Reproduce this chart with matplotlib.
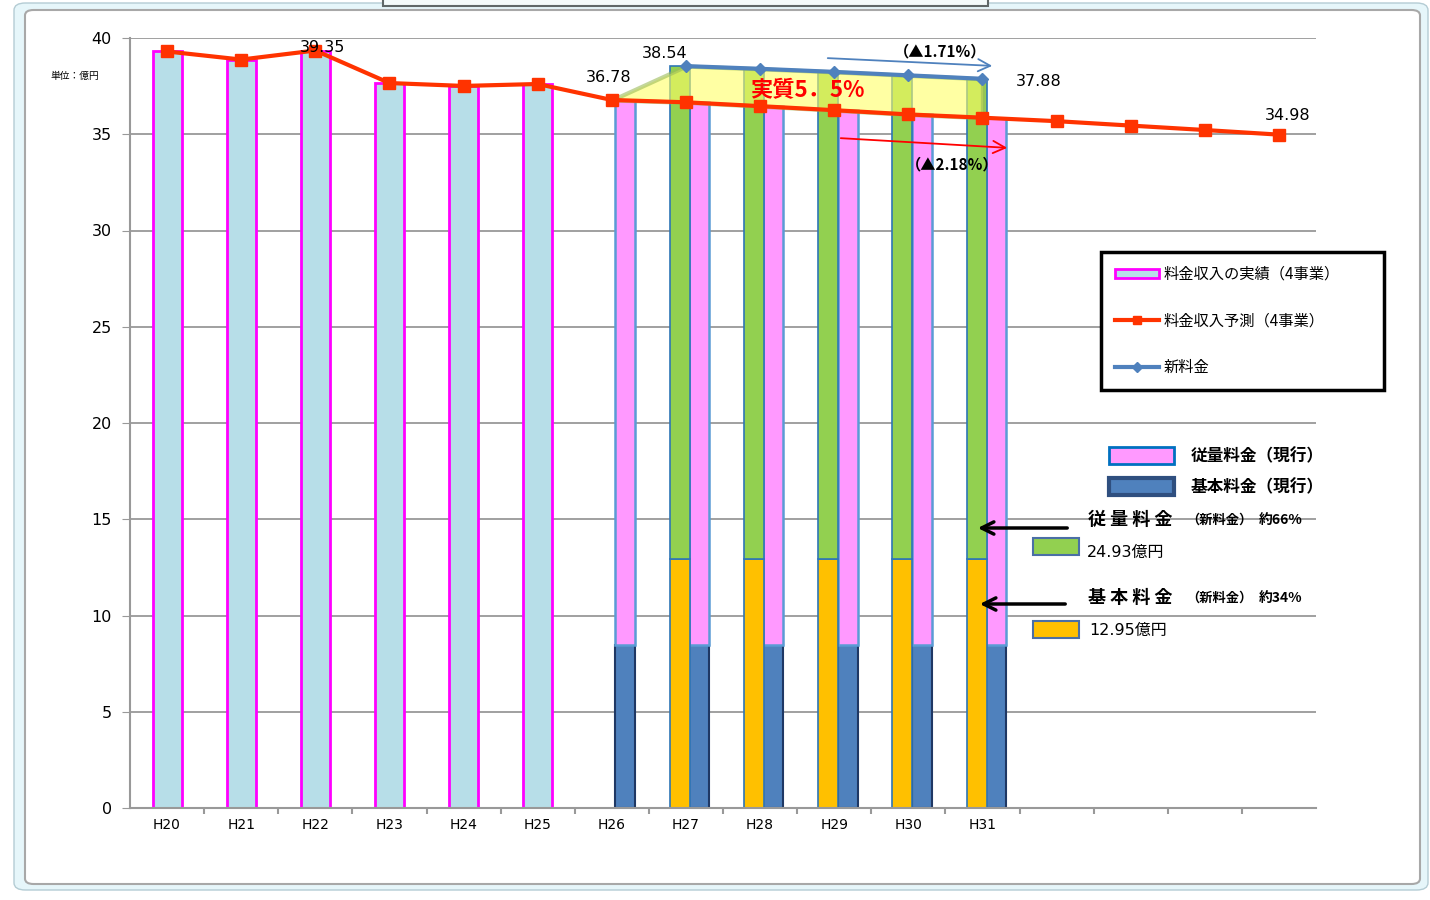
import numpy as np
import matplotlib
matplotlib.use('Agg')
import matplotlib.pyplot as plt
from matplotlib.patches import Patch, Rectangle, FancyBboxPatch
from matplotlib.lines import Line2D

plt.rcParams['font.family'] = ['DejaVu Sans', 'Noto Sans CJK JP']

# ============================================================
# DATA (units: 億円)
# ============================================================
years = ['H20', 'H21', 'H22', 'H23', 'H24', 'H25', 'H26', 'H27', 'H28',
         'H29', 'H30', 'H31', '', '', '', '']
# 料金収入の実績（4事業） H20-H25
actual = [39.30, 38.88, 39.35, 37.66, 37.51, 37.61]
# 料金収入予測（4事業） H20-H35
forecast = [39.30, 38.88, 39.35, 37.66, 37.51, 37.61, 36.78, 36.66, 36.46,
            36.25, 36.03, 35.86, 35.68, 35.45, 35.22, 34.98]
# 新料金 H27-H31
new_rate = [38.54, 38.40, 38.24, 38.06, 37.88]
# 基本料金（現行） H26-H31
base_current = [8.45, 8.45, 8.45, 8.45, 8.45, 8.45]
# 基本料金（新料金）
base_new = 12.95

W, H = 1430, 900


def fp(x, y):
  # reference pixel -> figure fraction
  return (x / W, 1 - y / H)


fig = plt.figure(figsize=(14.3, 9), dpi=100)
ax = fig.add_axes([130 / W, 1 - 808 / H, 1186 / W, 770 / H])
ax.set_facecolor('white')

# outer frame
fig.patches.append(FancyBboxPatch(fp(14, 890), 1414 / W, 887 / H,
                                  boxstyle='round,pad=0,rounding_size=0.008',
                                  transform=fig.transFigure, fc='#E6F6FA',
                                  ec='#B4CCD4', lw=1, zorder=-3))
fig.patches.append(FancyBboxPatch(fp(25, 884), 1395 / W, 874 / H,
                                  boxstyle='round,pad=0,rounding_size=0.006',
                                  transform=fig.transFigure, fc='white',
                                  ec='#A8A8A8', lw=1.5, zorder=-2))
fig.patches.append(Rectangle(fp(383, 6), 605 / W, 8 / H, transform=fig.transFigure,
                             fc='#F4FBFB', ec='#606868', lw=1.5, zorder=-1))

x = np.arange(len(years))

# ============================================================
# Bars
# ============================================================
ax.bar(x[:6], actual, width=0.39, color='#B7DEE8', edgecolor='#FF00FF', lw=2, zorder=2)

xr = x[6:12] + 0.18
pink = np.array(forecast[6:12]) - np.array(base_current)
ax.bar(xr, base_current, width=0.27, color='#4F81BD', edgecolor='#1F3864', lw=1.5, zorder=2)
ax.bar(xr, pink, bottom=base_current, width=0.27, color='#FF99FF',
       edgecolor='#5B9BD5', lw=1.8, zorder=2)

xl = x[7:12] - 0.08
green = np.array(new_rate) - base_new
ax.bar(xl, [base_new] * 5, width=0.27, color='#FFC000', edgecolor='#2E75B6', lw=1.2, zorder=2)
ax.bar(xl, green, bottom=base_new, width=0.27, color='#92D050', edgecolor='#2E75B6', lw=1.2, zorder=2)

# 実質 area between forecast and new rate
top = [forecast[6]] + new_rate
ax.fill_between(x[6:12], forecast[6:12], top, color='#FFFF66', alpha=0.6,
                edgecolor='#9BBB59', lw=3, zorder=3)

# ============================================================
# Lines
# ============================================================
ax.plot(x, forecast, color='#FF3300', lw=3, marker='s', ms=8, zorder=5)
ax.plot(x[7:12], new_rate, color='#4F81BD', lw=3, marker='D', ms=6, zorder=6)

# data labels
labels = [(2, forecast[2], (7, 3)), (6, forecast[6], (-3, 22)),
          (7, new_rate[0], (-21, 13)), (11, new_rate[4], (56, -3)),
          (15, forecast[15], (9, 19))]
for xi, v, off in labels:
  ax.annotate(f'{v:.2f}', (xi, v), xytext=off, textcoords='offset pixels',
              ha='center', va='center', fontsize=11.5, zorder=8)

# ============================================================
# Axes styling
# ============================================================
ax.set_xlim(-0.5, 15.5)
ax.set_ylim(0, 40)
ax.set_yticks(range(0, 41, 5))
ax.tick_params(axis='y', labelsize=11.5, length=6, color='#999999', pad=7)
ax.set_xticks(x)
ax.set_xticklabels(years, fontsize=10)
ax.set_xticks(np.arange(0.5, 15.5, 1), minor=True)
ax.tick_params(axis='x', which='major', length=0, pad=7)
ax.tick_params(axis='x', which='minor', length=4, color='#999999', width=1.5)
ax.grid(axis='y', color='#999999', lw=1.3)
ax.set_axisbelow(True)
for s in ['top', 'right']:
  ax.spines[s].set_visible(False)
for s in ['left', 'bottom']:
  ax.spines[s].set_color('#999999')
  ax.spines[s].set_linewidth(1.5)

jp = ['Noto Sans CJK JP']
fig.text(*fp(75, 76), '単位：億円', fontsize=7, ha='center', va='center', family=jp)

# ============================================================
# Annotations
# ============================================================
fig.text(*fp(807, 91), '実質5．5%', color='#FF0000', fontsize=16, fontweight='bold',
         ha='center', va='center', family=jp, zorder=8)
fig.text(*fp(940, 51), '（▲1.71%）', fontsize=11, fontweight='bold',
         ha='center', va='center', family=jp)
fig.text(*fp(952, 164), '（▲2.18%）', fontsize=11, fontweight='bold',
         ha='center', va='center', family=jp)
ax.annotate('', xy=fp(995, 66), xytext=fp(825, 58), xycoords='figure fraction',
            textcoords='figure fraction',
            arrowprops=dict(arrowstyle='->', color='#4F81BD', lw=1.3, mutation_scale=22))
ax.annotate('', xy=fp(1010, 148), xytext=fp(838, 138), xycoords='figure fraction',
            textcoords='figure fraction',
            arrowprops=dict(arrowstyle='->', color='#FF0000', lw=1.3, mutation_scale=22))

# 新料金 breakdown
fig.text(*fp(1088, 519), '従 量 料 金', fontsize=13, fontweight='bold', va='center', family=jp)
fig.text(*fp(1186, 520), '（新料金）', fontsize=9.5, fontweight='bold', va='center', family=jp)
fig.text(*fp(1259, 520), '約66%', fontsize=10, fontweight='bold', va='center', family=jp)
fig.text(*fp(1087, 552), '24.93億円', fontsize=11.5, va='center')
fig.text(*fp(1088, 597), '基 本 料 金', fontsize=13, fontweight='bold', va='center', family=jp)
fig.text(*fp(1186, 598), '（新料金）', fontsize=9.5, fontweight='bold', va='center', family=jp)
fig.text(*fp(1259, 598), '約34%', fontsize=10, fontweight='bold', va='center', family=jp)
fig.text(*fp(1089, 630), '12.95億円', fontsize=11.5, va='center')
fig.patches.append(Rectangle(fp(1033, 555), 46 / W, 17 / H, transform=fig.transFigure,
                             fc='#92D050', ec='#4A6FA5', lw=1.5))
fig.patches.append(Rectangle(fp(1033, 638), 46 / W, 17 / H, transform=fig.transFigure,
                             fc='#FFC000', ec='#4A6FA5', lw=1.5))
ax.annotate('', xy=fp(975, 528), xytext=fp(1070, 528), xycoords='figure fraction',
            textcoords='figure fraction',
            arrowprops=dict(arrowstyle='->', color='black', lw=2.5, mutation_scale=22))
ax.annotate('', xy=fp(977, 604), xytext=fp(1068, 604), xycoords='figure fraction',
            textcoords='figure fraction',
            arrowprops=dict(arrowstyle='->', color='black', lw=2.5, mutation_scale=22))

# ============================================================
# Legends
# ============================================================
h1 = [Patch(fc='#B7DEE8', ec='#FF00FF', lw=2),
      Line2D([], [], color='#FF3300', lw=3, marker='s', ms=6),
      Line2D([], [], color='#4F81BD', lw=3, marker='D', ms=5)]
l1 = ['料金収入の実績（4事業）', '料金収入予測（4事業）', '新料金']
x0, y0 = fp(1101, 392)
leg1 = ax.legend(h1, l1, loc='upper left', bbox_to_anchor=(x0, y0, 283 / W, 140 / H),
                 bbox_transform=fig.transFigure, mode='expand',
                 prop={'family': jp, 'size': 11}, handlelength=2.9, handleheight=0.6,
                 handletextpad=0.3, labelspacing=1.95, borderpad=0.9, borderaxespad=0,
                 fancybox=False, framealpha=1, edgecolor='black', numpoints=1)
leg1.get_frame().set_linewidth(2.5)
ax.add_artist(leg1)

h2 = [Patch(fc='#FF99FF', ec='#0070C0', lw=2), Patch(fc='#4F81BD', ec='#2F4F7F', lw=3)]
l2 = ['従量料金（現行）', '基本料金（現行）']
ax.legend(h2, l2, loc='upper left', bbox_to_anchor=fp(1109, 447),
          bbox_transform=fig.transFigure, prop={'family': jp, 'size': 12, 'weight': 'bold'},
          handlelength=3.9, handleheight=1.2, handletextpad=1.0, labelspacing=0.75,
          borderpad=0, borderaxespad=0, frameon=False)

plt.savefig('out.png', dpi=100)
